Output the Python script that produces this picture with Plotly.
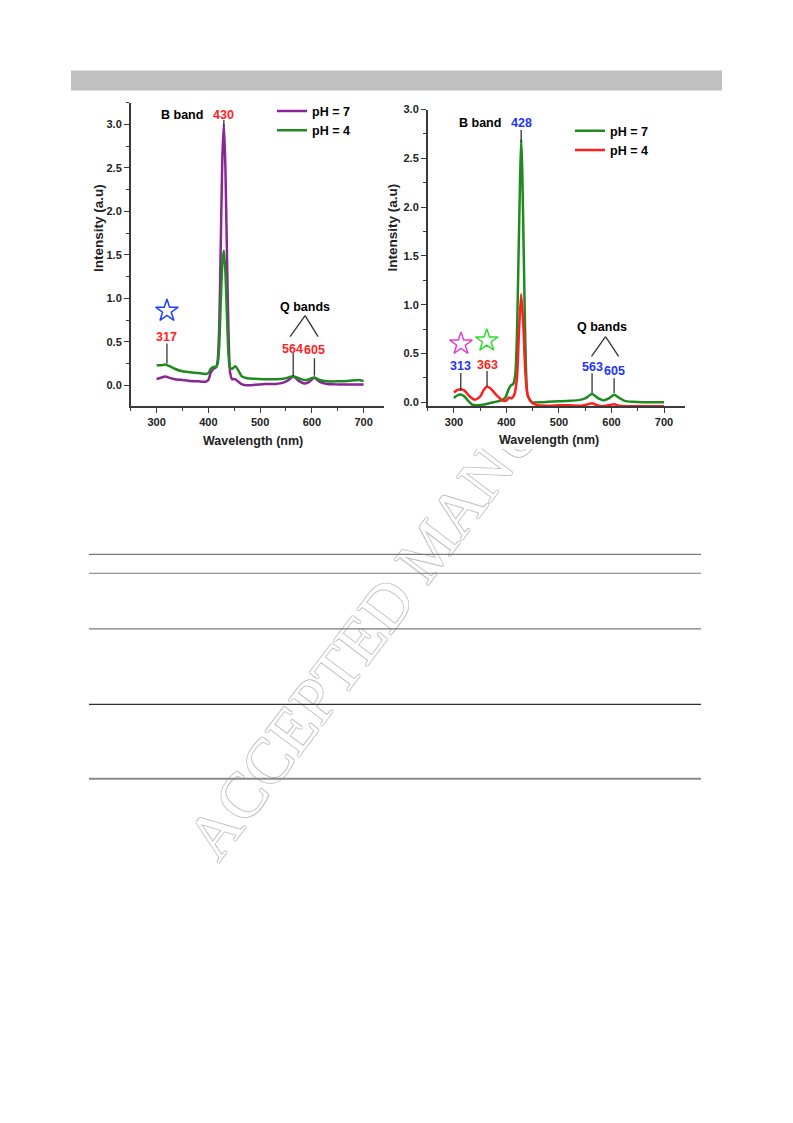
import plotly.graph_objects as go

W, H = 793, 1123

# ---------------- data: left panel ----------------
wl_a7 = [300, 305, 310, 317, 325, 335, 350, 365, 380, 395, 400, 405, 410, 415, 418, 421, 424, 427,
         430, 433, 436, 439, 442, 446, 452, 458, 465, 475, 490, 510, 530, 545, 555, 564, 575, 585,
         595, 605, 615, 630, 650, 670, 690, 700]
int_a7 = [0.07, 0.08, 0.09, 0.10, 0.085, 0.07, 0.06, 0.05, 0.045, 0.04, 0.06, 0.15, 0.19, 0.21, 0.28,
          0.65, 1.6, 2.6, 3.0, 2.5, 1.5, 0.6, 0.15, 0.07, 0.07, 0.04, 0.01, 0.0, 0.005, 0.015, 0.015,
          0.03, 0.06, 0.10, 0.05, 0.02, 0.04, 0.085, 0.04, 0.015, 0.01, 0.01, 0.01, 0.01]
wl_a4 = [300, 310, 317, 325, 335, 350, 365, 380, 395, 400, 405, 410, 415, 418, 421, 424, 427, 430,
         433, 436, 439, 442, 446, 452, 458, 465, 475, 490, 510, 530, 545, 555, 564, 575, 585, 595,
         605, 615, 630, 650, 670, 690, 700]
int_a4 = [0.23, 0.23, 0.24, 0.22, 0.19, 0.16, 0.15, 0.14, 0.13, 0.14, 0.19, 0.21, 0.21, 0.25, 0.45,
          0.95, 1.4, 1.55, 1.3, 0.8, 0.35, 0.2, 0.19, 0.22, 0.17, 0.1, 0.08, 0.075, 0.07, 0.07, 0.075,
          0.09, 0.105, 0.08, 0.06, 0.07, 0.09, 0.06, 0.045, 0.045, 0.05, 0.06, 0.05]

# ---------------- data: right panel ----------------
wl_b7 = [300, 306, 313, 320, 328, 335, 345, 360, 375, 390, 398, 403, 408, 413, 417, 420, 423, 426,
         428, 430, 433, 436, 440, 445, 450, 460, 480, 500, 520, 540, 550, 563, 575, 585, 595, 605,
         615, 625, 640, 660, 680, 700]
int_b7 = [0.045, 0.07, 0.08, 0.06, 0.01, -0.025, -0.03, -0.02, 0.0, 0.02, 0.05, 0.12, 0.17, 0.19,
          0.3, 0.7, 1.5, 2.3, 2.69, 2.4, 1.5, 0.6, 0.08, 0.02, 0.0, 0.0, 0.005, 0.01, 0.015, 0.025,
          0.04, 0.085, 0.04, 0.02, 0.04, 0.078, 0.045, 0.015, 0.005, 0.0, 0.0, 0.0]
wl_b4 = [300, 306, 313, 320, 330, 340, 350, 357, 363, 370, 380, 390, 395, 400, 405, 410, 415, 420,
         424, 428, 432, 436, 440, 445, 450, 460, 480, 500, 520, 540, 555, 563, 570, 580, 595, 605,
         615, 630, 650, 670, 700]
int_b4 = [0.1, 0.125, 0.135, 0.12, 0.06, 0.027, 0.06, 0.13, 0.163, 0.14, 0.08, 0.03, 0.015, 0.02,
          0.05, 0.04, 0.08, 0.25, 0.75, 1.11, 0.8, 0.3, 0.08, 0.02, -0.01, -0.03, -0.035, -0.03,
          -0.03, -0.035, -0.02, -0.01, -0.025, -0.04, -0.03, -0.02, -0.035, -0.04, -0.04, -0.04, -0.04]

series_names = ["pH = 7", "pH = 4"]
x_tick_vals = [300, 400, 500, 600, 700]
x_title = "Wavelength (nm)"
y_title = "Intensity (a.u)"

# annotation labels: (text, x, y, colour)
labels_a = [("B band", 349, 3.105, "black"), ("430", 430, 3.105, "#ff2222"),
            ("317", 320, 0.56, "#ff2222"), ("Q bands", 587, 0.905, "black"),
            ("564", 563, 0.42, "#ff2222"), ("605", 606, 0.40, "#ff2222")]
labels_b = [("B band", 349, 2.86, "black"), ("428", 428, 2.86, "#2233ff"),
            ("313", 313, 0.37, "#2233ff"), ("363", 363, 0.38, "#ff2222"),
            ("Q bands", 582, 0.77, "black"), ("563", 563, 0.36, "#2233ff"),
            ("605", 605, 0.32, "#2233ff")]
# leader segments (x0, y0, x1, y1)
leaders_a = [(430, 2.98, 430, 3.05), (320, 0.25, 320, 0.48), (564, 0.11, 564, 0.37),
             (605, 0.11, 605, 0.31), (558, 0.56, 587, 0.80), (587, 0.80, 612, 0.56)]
leaders_b = [(428, 2.67, 428, 2.79), (313, 0.115, 313, 0.30), (363, 0.166, 363, 0.32),
             (563, 0.095, 563, 0.298), (605, 0.095, 605, 0.247), (562, 0.47, 588.7, 0.674),
             (588.7, 0.674, 613.6, 0.47)]
# star markers (x, y, colour)
stars_a = [(320, 0.856, "#2040ff")]
stars_b = [(313.4, 0.60, "#e040d0"), (362.5, 0.633, "#30dd30")]

FONT = "Liberation Sans Narrow, Arial Narrow, Liberation Sans, Arial, sans-serif"
PURPLE, GREEN, RED = "#8b2596", "#1f8a1f", "#ff1f1f"

def px_x(p):
    return p / W

def px_y(p):
    return 1 - p / H

fig = go.Figure()

# left traces
fig.add_trace(go.Scatter(x=wl_a7, y=int_a7, mode="lines", name=series_names[0],
                         line=dict(color=PURPLE, width=2.5, shape="spline", smoothing=0.6),
                         xaxis="x", yaxis="y", legend="legend"))
fig.add_trace(go.Scatter(x=wl_a4, y=int_a4, mode="lines", name=series_names[1],
                         line=dict(color=GREEN, width=2.5, shape="spline", smoothing=0.6),
                         xaxis="x", yaxis="y", legend="legend"))
# right traces
fig.add_trace(go.Scatter(x=wl_b7, y=int_b7, mode="lines", name=series_names[0],
                         line=dict(color=GREEN, width=2.5, shape="spline", smoothing=0.6),
                         xaxis="x2", yaxis="y2", legend="legend2"))
fig.add_trace(go.Scatter(x=wl_b4, y=int_b4, mode="lines", name=series_names[1],
                         line=dict(color=RED, width=2.5, shape="spline", smoothing=0.6),
                         xaxis="x2", yaxis="y2", legend="legend2"))

# stars
for stars, xa, ya in [(stars_a, "x", "y"), (stars_b, "x2", "y2")]:
    fig.add_trace(go.Scatter(x=[s[0] for s in stars], y=[s[1] for s in stars], mode="markers",
                             marker=dict(symbol="star-open", size=17,
                                         color=[s[2] for s in stars],
                                         line=dict(width=1.5, color=[s[2] for s in stars])),
                             showlegend=False, xaxis=xa, yaxis=ya, hoverinfo="skip"))

# leader lines
for leaders, xa, ya in [(leaders_a, "x", "y"), (leaders_b, "x2", "y2")]:
    for (x0, y0, x1, y1) in leaders:
        fig.add_shape(type="line", xref=xa, yref=ya, x0=x0, y0=y0, x1=x1, y1=y1,
                      line=dict(color="#333333", width=1.3), layer="above")

# labels
for labels, xa, ya in [(labels_a, "x", "y"), (labels_b, "x2", "y2")]:
    for (t, x, y, c) in labels:
        fig.add_annotation(x=x, y=y, xref=xa, yref=ya, text=t, showarrow=False,
                           font=dict(family=FONT, size=12.5, color=c, weight="bold"))

# axis titles (placed as in the original figure images)
title_font = dict(family=FONT, color="#222222", weight="bold")
for (cx, cy) in [(253, 438), (548.5, 437.5)]:
    fig.add_annotation(x=px_x(cx), y=px_y(cy), xref="paper", yref="paper", text=x_title,
                       showarrow=False, xanchor="center", yanchor="middle",
                       font=dict(title_font, size=12.5))
for (cx, cy) in [(98.5, 224), (392.5, 223.5)]:
    fig.add_annotation(x=px_x(cx), y=px_y(cy), xref="paper", yref="paper", text=y_title,
                       showarrow=False, xanchor="center", yanchor="middle", textangle=-90,
                       font=dict(title_font, size=13.5))

# ---------------- page decorations ----------------
wm_font_plain = dict(family="Liberation Serif, Times New Roman, serif", size=64, color="#dcdcdc")
wm_font_outline = dict(family="Liberation Serif, Times New Roman, serif", size=64, color="white",
                       shadow="1px 0 0 #c0c0c0, -1px 0 0 #c0c0c0, 0 1px 0 #c0c0c0, 0 -1px 0 #c0c0c0")
wm_shape = dict(type="rect", xref="paper", yref="paper",
                x0=px_x(422), x1=px_x(426), y0=px_y(543), y1=px_y(539),
                line=dict(width=0), fillcolor="rgba(0,0,0,0)", layer="below")
try:
    fig.add_shape(**wm_shape, label=dict(text="ACCEPTED MANUSCRIPT", textposition="middle center",
                                         textangle=-53, font=wm_font_outline))
except Exception:
    fig.add_shape(**wm_shape, label=dict(text="ACCEPTED MANUSCRIPT", textposition="middle center",
                                         textangle=-53, font=wm_font_plain))

# white chart-image backgrounds hiding the watermark
for (a, b, c, d) in [(85, 88, 398, 446), (400, 88, 692, 446)]:
    fig.add_shape(type="rect", xref="paper", yref="paper", x0=px_x(a), x1=px_x(c),
                  y0=px_y(d), y1=px_y(b), line=dict(width=0), fillcolor="white", layer="below")

# grey header bar
fig.add_shape(type="rect", xref="paper", yref="paper", x0=px_x(71), x1=px_x(722),
              y0=px_y(85), y1=px_y(65), line=dict(width=0), fillcolor="#c0c0c0", layer="below")

# table rules
for yy, col, wd in [(552.3, "#7a7a7a", 1.2), (571.3, "#7a7a7a", 1.2), (627.3, "#7a7a7a", 1.2),
                    (703.3, "#303030", 1.3), (778.3, "#8a8a8a", 2.2)]:
    fig.add_shape(type="line", xref="paper", yref="paper", x0=px_x(89), x1=px_x(701),
                  y0=px_y(yy), y1=px_y(yy), line=dict(color=col, width=wd), layer="above")

axis_common = dict(showline=True, linecolor="#3a3a3a", linewidth=1.5, ticks="outside",
                   ticklen=5, tickwidth=1.3, tickcolor="#3a3a3a", showgrid=False, zeroline=False,
                   tickfont=dict(family=FONT, size=11, color="#222222", weight="bold"),
                   mirror=False)
xaxis_common = dict(axis_common, range=[250, 740], tickvals=x_tick_vals,
                    minor=dict(tickvals=[250, 350, 450, 550, 650], ticks="outside", ticklen=3,
                               tickcolor="#3a3a3a", tickwidth=1.2))
yaxis_common = dict(axis_common, dtick=0.5, tick0=0, tickformat=".1f",
                    minor=dict(dtick=0.25, tick0=0, ticks="outside", ticklen=3,
                               tickcolor="#3a3a3a", tickwidth=1.2))

legend_common = dict(xanchor="left", yanchor="top", bgcolor="rgba(0,0,0,0)", borderwidth=0,
                     font=dict(family=FONT, size=12.5, color="black", weight="bold"),
                     tracegroupgap=0)

fig.update_layout(
    width=W, height=H, autosize=False,
    margin=dict(l=0, r=0, t=0, b=0),
    paper_bgcolor="white", plot_bgcolor="white",
    xaxis=dict(xaxis_common, domain=[px_x(130.7), px_x(384.3)], anchor="y"),
    yaxis=dict(yaxis_common, domain=[px_y(403), px_y(97.3)], range=[-0.24, 3.25], anchor="x"),
    xaxis2=dict(xaxis_common, domain=[px_x(427.7), px_x(685)], anchor="y2"),
    yaxis2=dict(yaxis_common, domain=[px_y(403.3), px_y(104.3)], range=[-0.042, 3.0], anchor="x2"),
    legend=dict(legend_common, x=px_x(272), y=px_y(91)),
    legend2=dict(legend_common, x=px_x(570), y=px_y(111)),
    showlegend=True,
)

fig.write_html("out.html", config={"displayModeBar": False},
               post_script="document.body.style.margin='0';document.body.style.padding='0';")
